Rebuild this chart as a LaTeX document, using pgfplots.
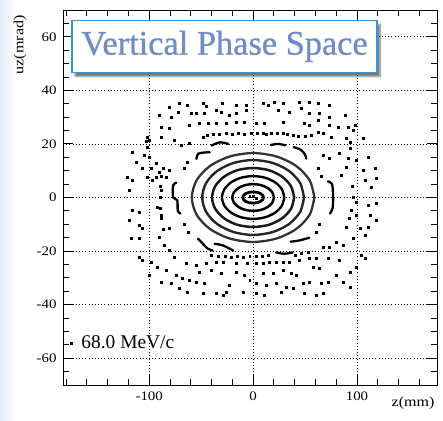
\documentclass[border=0pt]{standalone}
\usepackage{fontspec}
\setmainfont{Liberation Serif}
\newfontfamily\lblfont[FakeStretch=1.15]{Liberation Serif}
\newfontfamily\titlefont[FakeBold=0.8]{Liberation Serif}
\usepackage{pgfplots}
\pgfplotsset{compat=1.18}
\usetikzlibrary{shadows.blur}
\definecolor{titleblue}{RGB}{112,140,200}
\definecolor{boxblue}{RGB}{45,150,235}
\definecolor{stripblue}{RGB}{226,234,246}
\pgfplotsset{
  torus/.style={smooth, line width=#1, line cap=round},
  island/.style={smooth, line width=2.3pt, line cap=round},
}

\begin{document}
\begin{tikzpicture}
\fill[left color=stripblue, right color=white] (-63bp,-36bp) rectangle (-48bp,385bp);
\begin{axis}[
  at={(0,0)}, anchor=south west,
  width=374bp, height=375bp, scale only axis,
  xmin=-183, xmax=177, ymin=-70, ymax=70,
  xtick={-100,0,100}, xticklabels={-100,0,100},
  ytick={-60,-40,-20,0,20,40,60}, yticklabels={-60,-40,-20,0,20,40,60},
  minor xtick={-180,-160,...,180},
  minor ytick={-70,-65,...,70},
  tick align=inside,
  major tick length=10bp, minor tick length=6bp,
  every tick/.style={black, line width=0.9pt},
  axis line style={line width=1pt},
  grid=major,
  major grid style={black, line width=0.8pt, dash pattern=on 1pt off 2.2pt},
  xticklabel style={font=\lblfont\fontsize{13}{13}\selectfont, yshift=-3bp},
  yticklabel style={font=\lblfont\fontsize{13}{13}\selectfont, xshift=-3bp},
  xlabel={z(mm)}, ylabel={uz(mrad)},
  xlabel style={font=\lblfont\fontsize{14}{14}\selectfont, at={(axis description cs:0.936,-0.048)}, anchor=center},
  ylabel style={font=\lblfont\fontsize{14}{14}\selectfont, at={(axis description cs:-0.115,0.907)}, anchor=center},
  legend style={draw=none, fill=none, at={(axis description cs:0.013,0.112)}, anchor=west,
                font=\fontsize{19.5}{20}\selectfont, inner sep=0pt},
  legend image code/.code={\fill[black] (2bp,-1.2bp) rectangle (4.4bp,1.2bp); \path (0bp,0bp) (11bp,0bp);},
]
% scattered points of the outer (chaotic) region
\addplot[only marks, mark=square*, mark size=1pt, mark options={line width=0pt}] coordinates {
 (-70.7,35) (-62.7,34.5) (-48.2,35) (-45,34) (-29,35) (-16,34.3) (-6.4,34.5)
 (-80.4,33.7) (-72,31.8) (-90,30.6) (-78.7,30) (-59.4,31.2) (-54.6,31.2) (-46.6,31.2)
 (-35.3,32.5) (-30.5,31.8) (-22.5,30.6) (-16,31.2) (-6.4,32.5)
 (-88.4,26.2) (-80.4,25.6) (-61,26.9) (-51.4,27.5) (-43.4,27.5) (-35.3,27.5) (-25.7,27.5) (-16,28.1) (-8,28.1)
 (-115.8,16.9) (-112.5,13.2) (-104.5,15.7) (-99.7,15) (-106.1,10.7) (-98,10.7) (-101.3,7.6)
 (-120.6,7.6) (-115.8,6.3) (-119,2.6) (-96.5,6.3) (-90,9.4) (-88.4,2.6) (-80.4,10)
 (-101.3,22.5) (-99.7,21.3) (-88.4,22.5) (-75.5,21.3) (-69.1,19.4) (-61,20) (-48.2,22.5)
 (-93.2,12.6) (-83.6,7.6) (-93.2,7.6) (-103,21) (-102,18.5)
 (9.6,35) (14.5,34.3) (20.9,35.6) (28.9,35) (45,35.6) (54.7,35.6) (62.7,35) (74,34.3)
 (24.1,32.5) (35.4,31.8) (46.7,33.1) (54.7,31.2) (64.3,31.2) (74,30) (88.5,30.6)
 (3.2,27.5) (11.3,27.5) (28.9,28.1) (49.9,27.5) (54.7,26.9) (62.7,28.7) (74,26.9) (82,26.2)
 (91.6,26.2) (96.5,25) (98.1,26.9)
 (9.6,23.8) (17.7,23.8) (28.9,23.8) (38.6,23.1) (62.7,24.4) (67.5,23.8) (75.6,22.5) (90.1,21.9)
 (93.3,20.6) (106.1,21.9)
 (67.5,15.7) (74,14.4) (83.6,16.3) (91.6,14.4) (93.3,18.2) (90.1,11.3) (85.3,8.2) (99.7,13.8)
 (106.1,10.1) (110.9,15) (117.4,10.7) (119,7) (107.7,6.3) (114.2,3.8)
 (99.7,-1.8) (110.9,-3) (119,-2.4) (99.7,-6.7) (112.6,-6.7) (119,-8.6) (90.1,-11.1) (102.9,-11.7)
 (107.7,-14.2) (110.9,-11.1) (96.5,-15.4) (86.8,-17.9) (80.4,-16.7) (74,-18.5) (67.5,-18.5)
 (61.1,-22.9) (54.7,-22.9) (45,-23.5) (35.4,-24.1) (28.9,-24.1) (22.6,-24.1) (16.1,-24.1)
 (9.6,-24.7) (3.2,-24.7) (72.3,-22.9) (83.6,-23.5) (93.3,-27.9) (99.7,-26) (104.5,-21.6)
 (107.7,-22.9) (57.9,-26) (64.3,-26.6) (80.4,-29.1) (86.8,-31.6) (93.3,-33.5) (72.3,-31.6)
 (66,-32.2) (54.7,-31.6) (48.2,-32.2) (41.9,-29.1) (37,-28.5) (28.9,-27.2) (19.3,-28.5)
 (9.6,-28.5) (3.2,-32.2) (12.9,-32.8) (22.6,-32.2) (32.2,-33.5) (38.6,-34.1) (49.9,-35.9)
 (61.1,-36.6) (67.5,-35.9) (27.4,-35.3) (11.3,-36.6) (3.2,-35.9)
 (-115.8,-4.9) (-109.3,-5.5) (-118.9,-8.6) (-109.3,-10.4) (-106.1,-11.7) (-117.3,-15.4)
 (-109.3,-15.4) (-91.6,-3.6) (-88.4,-6.7) (-80.4,-11.7) (-90,-14.8) (-85.2,-17.9) (-80.4,-19.8)
 (-109.3,-22.3) (-106.1,-23.5) (-98,-24.1) (-91.6,-26) (-83.6,-27.2) (-73.9,-29.1) (-67.5,-30.3)
 (-61.1,-31) (-54.6,-31.6) (-46.6,-32.2) (-99.7,-29.1) (-88.4,-31.6) (-78.7,-32.2) (-70.7,-34.1)
 (-62.7,-35.3) (-48.2,-35.9) (-35.3,-35.9) (-28.9,-36.6) (-25.7,-35.3) (-51.4,-27.9) (-40.1,-27.2)
 (-30.5,-28.5) (-16,-27.9) (-8,-29.1) (-22.5,-32.8) (-9.6,-35.3) (-75.5,-22.3) (-64.2,-24.7)
 (-54.6,-25.4) (-45,-24.7) (-35.3,-24.1) (-28.9,-24.1) (-16,-24.5) (-5,-24.7) (-3,-31)
 (-44,23.2) (-38,23.6) (-32,23.4) (-26,23.8) (-20,23.6) (-14,23.9) (-8,23.7) (-2,23.9) (4,23.8)
 (13,23.7) (23,23.9) (33,23.5) (44,22.9) (50,22.6) (56,23)
 (-40,-21.6) (-33,-22) (-27,-22.2) (-21,-22.4) (-15,-22) (-9,-22.3) (-3,-22) (3,-21.9) (9,-22.1)
 (15,-21.7) (41,-21.5) (47,-21) (53,-20.5)
 (-86,11) (-88,8) (-89,4) (-89.5,0) (-89,-4) (-88,-8) (-86,-12) (96,4) (97,0) (95,-5) (93,-8)
 (-66,11) (-63,13) (-66,-10) (-62,-13) (63,11) (66,8) (64,-10) (61,-13)
 (0,0.4) (-3,0.2) (3,-0.2)
};
\addlegendentry{68.0 MeV/c}
% regular tori (inner closed curves)
\addplot[torus=2.8pt] coordinates {
 (10,0) (9.24,0.80) (7.07,1.48) (3.83,1.94) (0,2.1) (-3.83,1.94) (-7.07,1.48) (-9.24,0.80)
 (-10,0) (-9.24,-0.80) (-7.07,-1.48) (-3.83,-1.94) (0,-2.1) (3.83,-1.94) (7.07,-1.48) (9.24,-0.80) (10,0)};
\addplot[torus=2.5pt] coordinates {
 (20,0) (18.5,1.92) (14.1,3.54) (7.66,4.62) (0,5) (-7.66,4.62) (-14.1,3.54) (-18.5,1.92)
 (-20,0) (-18.5,-1.92) (-14.1,-3.54) (-7.66,-4.62) (0,-5) (7.66,-4.62) (14.1,-3.54) (18.5,-1.92) (20,0)};
\addplot[torus=2.4pt] coordinates {
 (30,0) (27.7,3.06) (21.2,5.66) (11.5,7.39) (0,8) (-11.5,7.39) (-21.2,5.66) (-27.7,3.06)
 (-30,0) (-27.7,-3.06) (-21.2,-5.66) (-11.5,-7.39) (0,-8) (11.5,-7.39) (21.2,-5.66) (27.7,-3.06) (30,0)};
\addplot[torus=2.5pt, black!90] coordinates {
 (39.5,0) (36.5,4.21) (27.9,7.78) (15.1,10.2) (0,11) (-15.1,10.2) (-27.9,7.78) (-36.5,4.21)
 (-39.5,0) (-36.5,-4.21) (-27.9,-7.78) (-15.1,-10.2) (0,-11) (15.1,-10.2) (27.9,-7.78) (36.5,-4.21) (39.5,0)};
\addplot[torus=2.4pt, black!85] coordinates {
 (49,0) (45.3,5.36) (34.6,9.9) (18.8,12.9) (0,14) (-18.8,12.9) (-34.6,9.9) (-45.3,5.36)
 (-49,0) (-45.3,-5.36) (-34.6,-9.9) (-18.8,-12.9) (0,-14) (18.8,-12.9) (34.6,-9.9) (45.3,-5.36) (49,0)};
\addplot[torus=2.3pt, black!80] coordinates {
 (59,0) (54.5,6.36) (41.7,11.7) (22.6,15.3) (0,16.6) (-22.6,15.3) (-41.7,11.7) (-54.5,6.36)
 (-59,0) (-54.5,-6.36) (-41.7,-11.7) (-22.6,-15.3) (0,-16.6) (22.6,-15.3) (41.7,-11.7) (54.5,-6.36) (59,0)};
% island chain
\addplot[island] coordinates {(-54.6,14.4) (-53,16.3) (-47,16.8) (-41.8,16.9)};
\addplot[island] coordinates {(-40,19.4) (-32,20.6) (-24,20)};
\addplot[island] coordinates {(17,19.6) (24,20) (31,19.5)};
\addplot[island] coordinates {(39,18.8) (46,17.8) (50,16) (51,14.5)};
\addplot[island] coordinates {(72,6) (76,5) (77,0) (76.5,-4) (74,-6)};
\addplot[island] coordinates {(-74,5.5) (-77,4.5) (-77,0) (-73,-1) (-72.5,-5) (-70,-6)};
\addplot[island] coordinates {(-53,-15.4) (-49,-17) (-44,-19) (-39,-19.8)};
\addplot[island] coordinates {(-37,-17.3) (-29,-17.9) (-19.3,-19.8)};
\addplot[island] coordinates {(22,-20.5) (30,-21) (38,-20.5)};
\addplot[island] coordinates {(36,-16.5) (45,-16) (54,-15)};
\node[draw=boxblue, line width=1.4pt, fill=white, minimum width=305bp, minimum height=52bp,
      inner sep=0pt, text=titleblue, font=\titlefont\fontsize{34.5}{34.5}\selectfont,
      blur shadow={shadow xshift=3bp, shadow yshift=-4bp, shadow blur steps=8, shadow opacity=55}]
  at (rel axis cs:0.432,0.903) {Vertical Phase Space};
\end{axis}
\pgfresetboundingbox
\path (-63bp,-36bp) rectangle (380bp,385bp);
\end{tikzpicture}
\end{document}
